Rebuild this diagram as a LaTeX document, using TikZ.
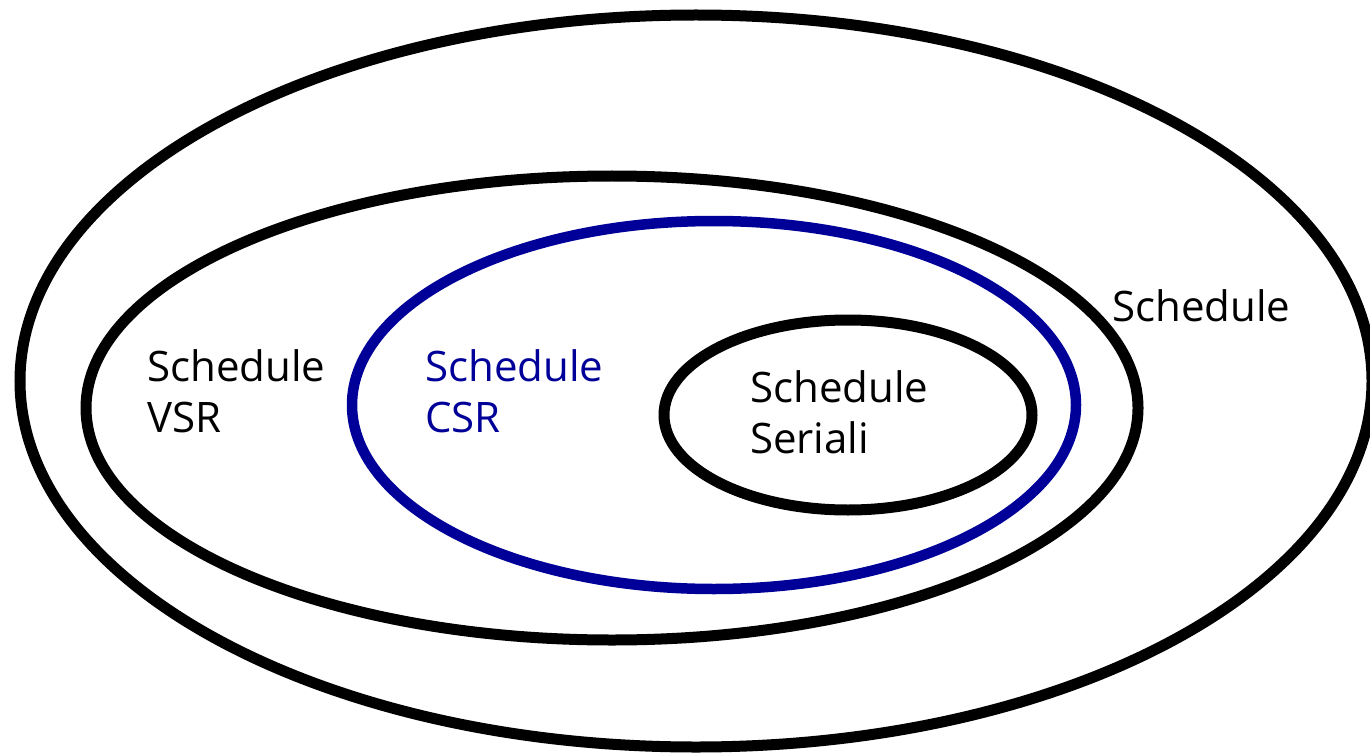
\documentclass[tikz,border=0pt]{standalone}
\usepackage{fontspec}
\setmainfont{Open Sans}
\definecolor{csrblue}{RGB}{0,0,153}
\begin{document}
\begin{tikzpicture}[x=1pt,y=-1pt,
  ring/.style={draw=black,line width=11pt},
  bluering/.style={draw=csrblue,line width=10.5pt},
  lbl/.style={anchor=base west,inner sep=0pt,align=left,
    font=\fontsize{42}{50.5}\selectfont}]
\useasboundingbox (0,0) rectangle (1370,754);
\clip (0,0) rectangle (1370,754);
\fill[white] (0,0) rectangle (1370,754);
\draw[ring] (696,381) ellipse [x radius=676pt, y radius=366pt];
\draw[ring] (612,408) ellipse [x radius=526pt, y radius=232pt];
\draw[bluering] (714,405) ellipse [x radius=362pt, y radius=184pt];
\draw[ring] (848,415) ellipse [x radius=184pt, y radius=95pt];
\node[lbl] (all) at (1112,321) {Schedule};
\node[lbl] (vsr) at (147,432) {Schedule\\VSR};
\node[lbl,text=csrblue] (csr) at (425,432) {Schedule\\CSR};
\node[lbl] (ser) at (750,453) {Schedule\\Seriali};
\end{tikzpicture}
\end{document}
